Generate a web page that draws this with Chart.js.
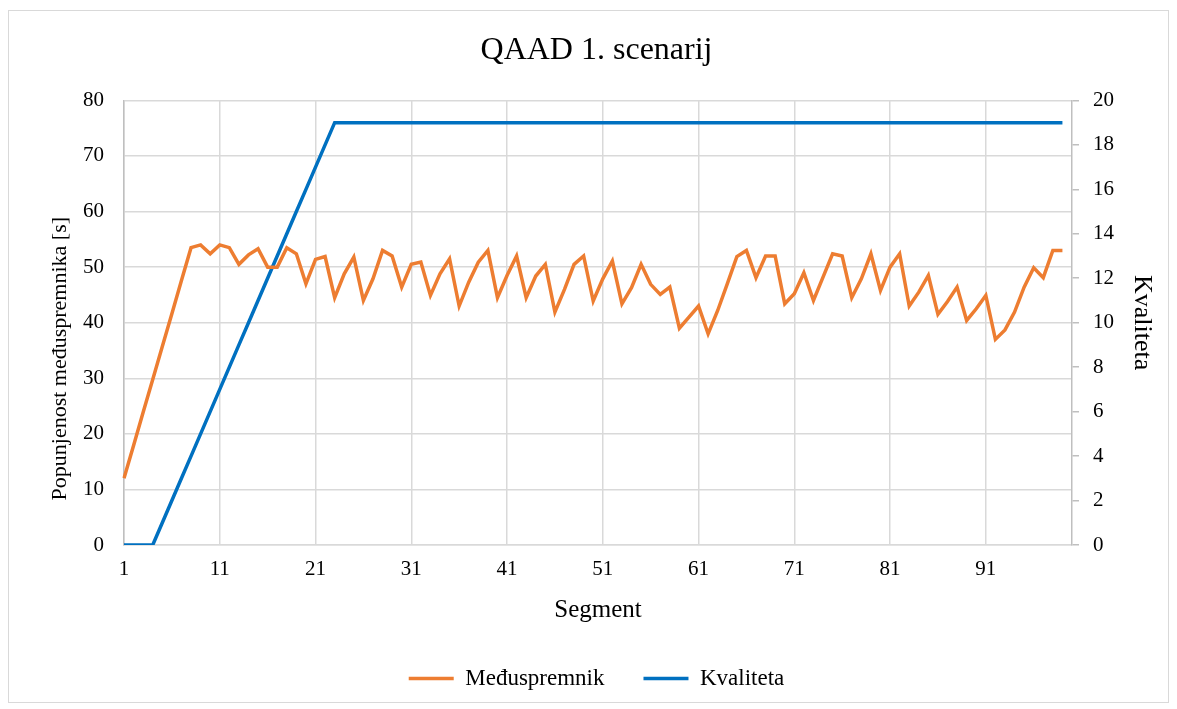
<!DOCTYPE html>
<html lang="hr">
<head>
<meta charset="utf-8">
<title>QAAD 1. scenarij</title>
<script src="https://cdn.jsdelivr.net/npm/chart.js@4.4.1/dist/chart.umd.min.js"></script>
<style>
  html, body { margin: 0; padding: 0; background: #fff; }
  #okvir { position: relative; width: 1177px; height: 709px; }
</style>
</head>
<body>
<div id="okvir"><canvas id="grafikon" width="1177" height="709"></canvas></div>
<script>
// Segmenti videa (os x) i oznake koje se prikazuju
const segmenti = Array.from({ length: 100 }, (_, i) => i + 1);
const oznakeX = [1, 11, 21, 31, 41, 51, 61, 71, 81, 91];

// Popunjenost međuspremnika [s] po segmentu
const meduspremnik = [
  12, 17.9, 23.9, 29.8, 35.7, 41.6, 47.6, 53.5, 54, 52.4,
  54, 53.5, 50.5, 52.2, 53.3, 50, 50, 53.5, 52.4, 47,
  51.4, 51.9, 44.5, 48.8, 51.8, 44, 47.9, 53, 52, 46.4,
  50.5, 50.9, 44.9, 48.8, 51.5, 43, 47.3, 50.9, 53, 44.5,
  48.5, 52, 44.5, 48.4, 50.5, 41.9, 46, 50.5, 52, 43.9,
  47.9, 51.1, 43.4, 46.3, 50.5, 46.9, 45.1, 46.4, 39, 41,
  43, 38, 42.2, 47, 51.9, 53, 48.1, 52, 52, 43.4,
  45.2, 49, 44, 48.2, 52.4, 52, 44.5, 47.9, 52.4, 45.8,
  50, 52.4, 43, 45.5, 48.5, 41.5, 43.8, 46.4, 40.4, 42.5,
  44.9, 37, 38.7, 41.9, 46.4, 49.9, 48.1, 53, 53
];

// Odabrana razina kvalitete po segmentu
const kvaliteta = [
  0, 0, 0, 0, 1, 2, 3, 4, 5, 6,
  7, 8, 9, 10, 11, 12, 13, 14, 15, 16,
  17, 18, 19, 19, 19, 19, 19, 19, 19, 19,
  19, 19, 19, 19, 19, 19, 19, 19, 19, 19,
  19, 19, 19, 19, 19, 19, 19, 19, 19, 19,
  19, 19, 19, 19, 19, 19, 19, 19, 19, 19,
  19, 19, 19, 19, 19, 19, 19, 19, 19, 19,
  19, 19, 19, 19, 19, 19, 19, 19, 19, 19,
  19, 19, 19, 19, 19, 19, 19, 19, 19, 19,
  19, 19, 19, 19, 19, 19, 19, 19, 19
];

const FONT = '"Liberation Serif", "Times New Roman", serif';
Chart.defaults.font.family = FONT;
Chart.defaults.color = '#000';

const SIVA = '#d9d9d9';
const SIVA_OS = '#bfbfbf';

// bijela pozadina i tanki okvir oko grafikona
const okvirPlugin = {
  id: 'okvir',
  beforeDraw(chart) {
    const c = chart.ctx;
    c.save();
    c.fillStyle = '#fff';
    c.fillRect(0, 0, chart.width, chart.height);
    c.strokeStyle = SIVA;
    c.lineWidth = 1;
    c.strokeRect(8.5, 10.5, 1160, 692);
    c.restore();
  }
};

// naslov lijeve osi, malo spušten ispod sredine
const lijeviNaslov = {
  id: 'lijeviNaslov',
  afterDraw(chart) {
    const { top, bottom } = chart.chartArea;
    const c = chart.ctx;
    c.save();
    c.translate(60, (top + bottom) / 2 + 36);
    c.rotate(-Math.PI / 2);
    c.font = '22px ' + FONT;
    c.fillStyle = '#000';
    c.textAlign = 'center';
    c.textBaseline = 'middle';
    c.fillText('Popunjenost međuspremnika [s]', 0, 0);
    c.restore();
  }
};

new Chart(document.getElementById('grafikon'), {
  type: 'line',
  data: {
    labels: segmenti,
    datasets: [
      {
        label: 'Međuspremnik',
        data: meduspremnik,
        borderColor: '#ED7D31',
        backgroundColor: '#ED7D31',
        borderWidth: 3.5,
        pointRadius: 0,
        tension: 0,
        yAxisID: 'y'
      },
      {
        label: 'Kvaliteta',
        data: kvaliteta,
        borderColor: '#0070C0',
        backgroundColor: '#0070C0',
        borderWidth: 3.5,
        pointRadius: 0,
        tension: 0,
        yAxisID: 'y1'
      }
    ]
  },
  options: {
    responsive: false,
    animation: false,
    // lijevi odmak pomiče naslov i legendu malo udesno
    layout: { padding: { left: 16, right: 0, top: 0, bottom: 9 } },
    plugins: {
      title: {
        display: true,
        text: 'QAAD 1. scenarij',
        color: '#000',
        font: { size: 32, weight: 'normal' },
        padding: { top: 31, bottom: 31 }
      },
      legend: {
        position: 'bottom',
        labels: {
          usePointStyle: true,
          pointStyle: 'line',
          pointStyleWidth: 45,
          padding: 39,
          color: '#000',
          font: { size: 23 }
        }
      },
      tooltip: { enabled: false }
    },
    scales: {
      x: {
        type: 'category',
        offset: false,
        grid: {
          color: ctx => oznakeX.includes(segmenti[ctx.index]) ? SIVA : 'rgba(0,0,0,0)',
          lineWidth: 1.5,
          drawTicks: false
        },
        border: { color: SIVA, width: 1.5 },
        ticks: {
          autoSkip: false,
          maxRotation: 0,
          padding: 12,
          font: { size: 21 },
          callback: (v, i) => oznakeX.includes(segmenti[i]) ? String(segmenti[i]) : ''
        },
        title: {
          display: true,
          text: 'Segment',
          font: { size: 25 },
          padding: { top: 0, bottom: 3 }
        },
        afterFit: s => { s.height = 83; }
      },
      y: {
        position: 'left',
        min: 0,
        max: 80,
        ticks: { stepSize: 10, padding: 20, font: { size: 21 } },
        grid: { color: SIVA, lineWidth: 1.5, drawTicks: false },
        border: { color: SIVA_OS, width: 1.5 },
        afterFit: s => { s.width = 108; }
      },
      y1: {
        position: 'right',
        min: 0,
        max: 20,
        ticks: { stepSize: 2, padding: 14, font: { size: 21 } },
        grid: { drawOnChartArea: false, color: SIVA_OS, lineWidth: 1.5, tickLength: 7 },
        border: { color: SIVA_OS, width: 1.5 },
        title: {
          display: true,
          text: 'Kvaliteta',
          font: { size: 26 },
          padding: { top: 20, bottom: 0 }
        },
        afterFit: s => { s.width = 105; }
      }
    }
  },
  plugins: [okvirPlugin, lijeviNaslov]
});
</script>
</body>
</html>
